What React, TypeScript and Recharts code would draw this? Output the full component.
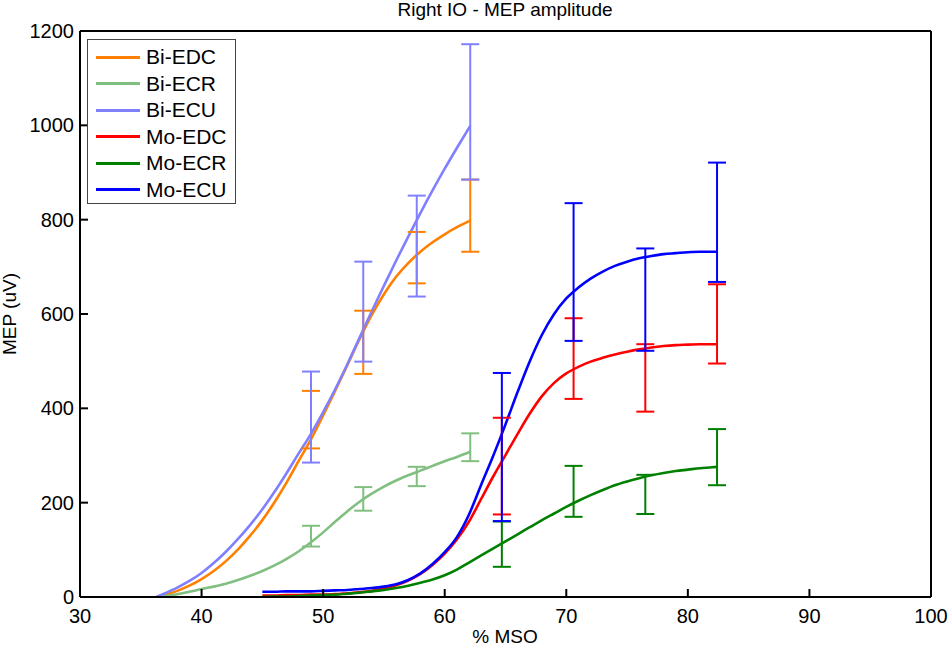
import React from 'react';
import { ComposedChart, Line, Scatter, ErrorBar, XAxis, YAxis } from 'recharts';

// ─── Axes ───
const xTicks = [30, 40, 50, 60, 70, 80, 90, 100];
const yTicks = [0, 200, 400, 600, 800, 1000, 1200];

// ─── Fitted curves (x samples shared per group) ───
const biCurveX = [36.3, 37, 38, 39, 40, 41, 42, 43, 44, 45, 46, 47, 48, 49, 50, 51, 52, 53, 54, 55, 56, 57, 58, 59, 60, 61, 62.1];
const biEdcCurve = [0, 5, 13, 24, 38, 55, 76, 101, 130, 163, 201, 243, 289, 334, 385, 438, 492, 547, 598, 642, 679, 708, 732, 752, 769, 784, 798];
const biEcrCurve = [0, 2, 6, 11, 17, 22, 28, 36, 45, 55, 67, 81, 97, 116, 137, 160, 182, 202, 219, 234, 247, 258, 268, 278, 288, 297, 308];
const biEcuCurve = [0, 8, 20, 34, 51, 72, 96, 123, 153, 186, 223, 263, 305, 346, 392, 441, 494, 550, 606, 660, 713, 764, 814, 862, 908, 952, 999];

const moCurveX = [45, 46, 47, 48, 49, 50, 51, 52, 53, 54, 55, 56, 57, 58, 59, 60, 61, 62, 63, 64, 65, 66, 67, 68, 69, 70, 71, 72, 73, 74, 75, 76, 77, 78, 79, 80, 81, 82, 82.4];
const moEdcCurve = [3, 3, 4, 4, 5, 5, 6, 8, 10, 13, 18, 25, 35, 49, 68, 92, 122, 160, 208, 256, 301, 346, 389, 426, 454, 474, 488, 499, 507, 514, 520, 525, 529, 532, 534, 535, 536, 536, 536];
const moEcrCurve = [0, 1, 1, 2, 3, 4, 5, 7, 9, 12, 15, 19, 24, 30, 37, 46, 58, 73, 88, 103, 118, 133, 148, 163, 177, 191, 204, 216, 227, 237, 245, 252, 258, 263, 267, 270, 273, 275, 276];
const moEcuCurve = [11, 11, 12, 12, 12, 13, 14, 15, 17, 19, 22, 27, 36, 50, 70, 95, 127, 175, 238, 300, 366, 435, 500, 556, 600, 633, 656, 675, 690, 702, 711, 718, 723, 727, 729, 731, 732, 732, 732];

// ─── Error bars: [low, high] at each stimulus level ───
const biBarX = [49, 53.3, 57.7, 62.1];
const biEdcBars = [[315, 437], [473, 607], [665, 774], [732, 885]];
const biEcrBars = [[107, 151], [183, 233], [235, 276], [288, 347]];
const biEcuBars = [[285, 478], [499, 711], [637, 851], [885, 1172]];

const moBarX = [64.7, 70.6, 76.5, 82.4];
const moEdcBars = [[175, 380], [420, 591], [393, 536], [495, 663]];
const moEcrBars = [[64, 160], [170, 278], [176, 259], [237, 356]];
const moEcuBars = [[161, 475], [543, 835], [522, 739], [668, 921]];

const FONT = '"Liberation Sans", Arial, Helvetica, sans-serif';

const series = [
  { name: 'Bi-EDC', color: '#FF8000', cx: biCurveX, cy: biEdcCurve, bx: biBarX, bars: biEdcBars },
  { name: 'Bi-ECR', color: '#80BF80', cx: biCurveX, cy: biEcrCurve, bx: biBarX, bars: biEcrBars },
  { name: 'Bi-ECU', color: '#8080FF', cx: biCurveX, cy: biEcuCurve, bx: biBarX, bars: biEcuBars },
  { name: 'Mo-EDC', color: '#FF0000', cx: moCurveX, cy: moEdcCurve, bx: moBarX, bars: moEdcBars },
  { name: 'Mo-ECR', color: '#008000', cx: moCurveX, cy: moEcrCurve, bx: moBarX, bars: moEcrBars },
  { name: 'Mo-ECU', color: '#0000FF', cx: moCurveX, cy: moEcuCurve, bx: moBarX, bars: moEcuBars },
];

const curveData = (xs: number[], ys: number[]) => xs.map((x, i) => ({ x, y: ys[i] }));
const barData = (xs: number[], bars: number[][]) =>
  xs.map((x, i) => ({ x, y: (bars[i][0] + bars[i][1]) / 2, err: (bars[i][1] - bars[i][0]) / 2 }));

const tickStyle = { fill: '#000', fontSize: 20, fontFamily: FONT };
const axisLine = { stroke: '#000', strokeWidth: 2 };
const tickLine = { stroke: '#000', strokeWidth: 2 };
const noLabel = () => <g />;

const ChartLegend = () => (
  <div
    style={{
      position: 'absolute', left: 87, top: 39, width: 147, height: 163,
      border: '1px solid #444', background: '#fff', fontFamily: FONT, fontSize: 21,
    }}
  >
    {series.map((s, i) => (
      <div key={s.name} style={{ position: 'absolute', left: 0, top: 4 + i * 26.5, height: 26.5, display: 'flex', alignItems: 'center' }}>
        <span style={{ display: 'inline-block', marginLeft: 8, width: 44, height: 3, background: s.color }} />
        <span style={{ marginLeft: 6, color: '#000', lineHeight: '26.5px' }}>{s.name}</span>
      </div>
    ))}
  </div>
);

export default function App() {
  return (
    <div style={{ position: 'absolute', left: 0, top: 0, width: 950, height: 647, background: '#fff' }}>
      <ComposedChart width={950} height={647} margin={{ top: 30, right: 18, bottom: 10, left: 10 }}>
        <XAxis
          type="number" dataKey="x" domain={[30, 100]} ticks={xTicks} allowDataOverflow
          height={40} tickSize={-8} tickMargin={20} tick={tickStyle} axisLine={axisLine} tickLine={tickLine}
        />
        <XAxis
          xAxisId="top" orientation="top" type="number" domain={[30, 100]} ticks={xTicks}
          height={1} tickSize={-8} tick={noLabel} axisLine={axisLine} tickLine={tickLine}
        />
        <YAxis
          type="number" dataKey="y" domain={[0, 1200]} ticks={yTicks} allowDataOverflow
          width={70} tickSize={-8} tickMargin={14} tick={tickStyle} axisLine={axisLine} tickLine={tickLine}
        />
        <YAxis
          yAxisId="right" orientation="right" type="number" domain={[0, 1200]} ticks={yTicks}
          width={1} tickSize={-8} tick={noLabel} axisLine={axisLine} tickLine={tickLine}
        />

        {series.map(s => (
          <Line
            key={`line-${s.name}`} data={curveData(s.cx, s.cy)} dataKey="y" type="monotone"
            stroke={s.color} strokeWidth={2.6} dot={false} activeDot={false} isAnimationActive={false}
          />
        ))}

        {series.map(s => (
          <Scatter
            key={`bar-${s.name}`} data={barData(s.bx, s.bars)} dataKey="y"
            shape={() => <g />} isAnimationActive={false}
          >
            <ErrorBar dataKey="err" direction="y" width={9} stroke={s.color} strokeWidth={2} isAnimationActive={false} />
          </Scatter>
        ))}
      </ComposedChart>

      <svg width={950} height={647} style={{ position: 'absolute', left: 0, top: 0, pointerEvents: 'none' }}>
        <text x={505} y={16} textAnchor="middle" fontFamily={FONT} fontSize={19} fill="#000">Right IO - MEP amplitude</text>
        <text x={505} y={643} textAnchor="middle" fontFamily={FONT} fontSize={19} fill="#000">% MSO</text>
        <text transform="translate(16, 314) rotate(-90)" textAnchor="middle" fontFamily={FONT} fontSize={19} fill="#000">MEP (uV)</text>
      </svg>

      <ChartLegend />
    </div>
  );
}
